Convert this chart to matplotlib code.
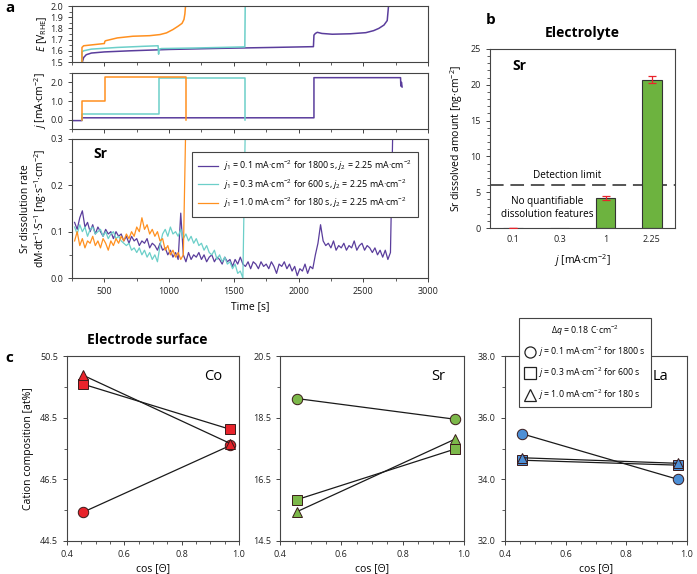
import numpy as np
import matplotlib
matplotlib.use("Agg")
import matplotlib.pyplot as plt
from matplotlib.lines import Line2D
from matplotlib.ticker import MultipleLocator, FormatStrFormatter

plt.rcParams['font.family'] = ['Open Sans', 'DejaVu Sans']
plt.rcParams['mathtext.fontset'] = 'custom'
plt.rcParams['mathtext.rm'] = 'Open Sans'
plt.rcParams['mathtext.it'] = 'Open Sans:italic'
plt.rcParams['mathtext.bf'] = 'Open Sans:bold'
plt.rcParams['axes.linewidth'] = 0.8
plt.rcParams['axes.edgecolor'] = '#444444'
plt.rcParams['xtick.color'] = '#444444'
plt.rcParams['ytick.color'] = '#444444'
plt.rcParams['xtick.labelcolor'] = '#222222'
plt.rcParams['ytick.labelcolor'] = '#222222'

PURPLE = '#5a3d9c'
CYAN = '#6ccfc9'
ORANGE = '#ff901f'

# ---------------- panel a: potential -----------------
E_t_purple = [330, 340, 360, 400, 500, 700, 1000, 1400, 1800, 2115, 2119, 2130, 2145, 2180,
              2260, 2400, 2520, 2580, 2620, 2660, 2685, 2695]
E_purple = [1.50, 1.54, 1.565, 1.58, 1.59, 1.60, 1.612, 1.622, 1.63, 1.637, 1.74, 1.755, 1.765,
            1.755, 1.748, 1.752, 1.762, 1.78, 1.80, 1.83, 1.87, 2.0]
E_t_cyan = [327, 327, 340, 400, 600, 800, 915, 919, 921, 925, 940, 1200, 1400, 1585, 1588]
E_cyan = [1.50, 1.59, 1.60, 1.615, 1.63, 1.64, 1.645, 1.57, 1.60, 1.615, 1.62, 1.625, 1.63, 1.635, 2.0]
E_t_orange = [327, 327, 340, 420, 500, 504, 510, 600, 720, 850, 930, 980, 1030, 1070, 1100, 1115,
              1122, 1127]
E_orange = [1.50, 1.63, 1.645, 1.655, 1.665, 1.685, 1.69, 1.715, 1.73, 1.735, 1.745, 1.76, 1.79,
            1.82, 1.845, 1.88, 1.93, 2.0]

# ---------------- panel a: current density -----------------
j_t_purple = [250, 327, 327, 2119, 2119, 2788, 2790, 2795, 2800]
j_purple = [-0.05, -0.05, 0.1, 0.1, 2.25, 2.25, 1.8, 2.0, 1.75]
j_t_cyan = [327, 327, 919, 919, 1588, 1588]
j_cyan = [0.0, 0.3, 0.3, 2.25, 2.25, 0.0]
j_t_orange = [327, 327, 504, 504, 1127, 1127]
j_orange = [0.0, 1.0, 1.0, 2.3, 2.3, 0.0]

# ---------------- panel a: Sr dissolution rate (every 20 s from 270 s) -----------------
T0, DT = 270, 20
rate_purple = [
    0.120, 0.105, 0.130, 0.145, 0.110, 0.120, 0.100, 0.115, 0.095, 0.110,
    0.100, 0.090, 0.105, 0.095, 0.100, 0.085, 0.100, 0.090, 0.095, 0.080,
    0.090, 0.075, 0.090, 0.080, 0.085, 0.070, 0.080, 0.075, 0.085, 0.065,
    0.075, 0.070, 0.060, 0.075, 0.060, 0.065, 0.050, 0.060, 0.045, 0.055,
    0.040, 0.140, 0.050, 0.035, 0.055, 0.040, 0.050, 0.045, 0.055, 0.040,
    0.050, 0.035, 0.045, 0.050, 0.035, 0.045, 0.040, 0.030, 0.045, 0.035,
    0.040, 0.025, 0.040, 0.030, 0.045, 0.030, 0.025, 0.035, 0.020, 0.035,
    0.030, 0.020, 0.035, 0.025, 0.030, 0.020, 0.035, 0.025, 0.010, 0.030,
    0.025, 0.035, 0.020, 0.030, 0.015, 0.025, 0.005, 0.020, 0.015, 0.030,
    0.010, 0.025, 0.020, 0.050, 0.075, 0.115, 0.080, 0.070, 0.075, 0.065,
    0.080, 0.060, 0.070, 0.065, 0.075, 0.060, 0.070, 0.065, 0.080, 0.060,
    0.070, 0.075, 0.060, 0.070, 0.065, 0.055, 0.065, 0.050, 0.060, 0.045,
    0.060, 0.040, 0.055, 0.350,
]
rate_cyan = [
    0.110, 0.095, 0.115, 0.100, 0.110, 0.090, 0.105, 0.110, 0.095, 0.100,
    0.105, 0.090, 0.100, 0.085, 0.095, 0.100, 0.085, 0.090, 0.080, 0.075,
    0.070, 0.075, 0.060, 0.065, 0.055, 0.065, 0.050, 0.060, 0.045, 0.055,
    0.040, 0.050, 0.035, 0.070, 0.095, 0.105, 0.090, 0.110, 0.095, 0.100,
    0.090, 0.105, 0.085, 0.095, 0.080, 0.090, 0.075, 0.085, 0.070, 0.075,
    0.060, 0.070, 0.055, 0.050, 0.060, 0.040, 0.050, 0.035, 0.045, 0.030,
    0.035, 0.020, 0.030, 0.010, 0.015, 0.000, 0.350,
]
rate_orange = [
    0.080, 0.100, 0.070, 0.085, 0.065, 0.080, 0.075, 0.090, 0.070, 0.080,
    0.065, 0.085, 0.075, 0.060, 0.080, 0.070, 0.085, 0.075, 0.090, 0.080,
    0.095, 0.085, 0.100, 0.090, 0.110, 0.100, 0.130, 0.105, 0.115, 0.095,
    0.105, 0.090, 0.100, 0.080, 0.085, 0.060, 0.070, 0.050, 0.060, 0.045,
    0.055, 0.040, 0.050, 0.350,
]
series_labels = [
    r"$j_1$ = 0.1 mA·cm$^{-2}$ for 1800 s, $j_2$ = 2.25 mA·cm$^{-2}$",
    r"$j_1$ = 0.3 mA·cm$^{-2}$ for 600 s, $j_2$ = 2.25 mA·cm$^{-2}$",
    r"$j_1$ = 1.0 mA·cm$^{-2}$ for 180 s, $j_2$ = 2.25 mA·cm$^{-2}$",
]

# ---------------- panel b -----------------
b_categories = ['0.1', '0.3', '1', '2.25']
b_values = [0.0, 0.0, 4.2, 20.7]
b_errors = [0.0, np.nan, 0.25, 0.5]
detection_limit = 6.0

# ---------------- panel c -----------------
cos_theta = [0.455, 0.97]
c_elements = ['Co', 'Sr', 'La']
c_circle = {'Co': [45.43, 47.6], 'Sr': [19.12, 18.45], 'La': [35.48, 34.0]}
c_square = {'Co': [49.59, 48.12], 'Sr': [15.84, 17.48], 'La': [34.62, 34.46]}
c_triangle = {'Co': [49.88, 47.66], 'Sr': [15.45, 17.80], 'La': [34.70, 34.52]}
c_colors = {'Co': '#e8232b', 'Sr': '#7cb84a', 'La': '#4d8fd6'}
c_yticks = {'Co': [44.5, 46.5, 48.5, 50.5], 'Sr': [14.5, 16.5, 18.5, 20.5],
            'La': [32.0, 34.0, 36.0, 38.0]}
c_legend_labels = [
    r"$j$ = 0.1 mA·cm$^{-2}$ for 1800 s",
    r"$j$ = 0.3 mA·cm$^{-2}$ for 600 s",
    r"$j$ = 1.0 mA·cm$^{-2}$ for 180 s",
]

W, H = 697, 574
fig = plt.figure(figsize=(W / 100, H / 100), dpi=100)


def box(x0, y0, x1, y1):
    # pixel box (top-left origin) -> figure fraction rect
    return [x0 / W, 1 - y1 / H, (x1 - x0) / W, (y1 - y0) / H]


TICK = 6.5
LAB = 7.5

ax_E = fig.add_axes(box(72, 6, 428, 62))
ax_j = fig.add_axes(box(72, 73, 428, 129))
ax_r = fig.add_axes(box(72, 139, 428, 278))

ax_E.plot(E_t_purple, E_purple, color=PURPLE, lw=1.1)
ax_E.plot(E_t_cyan, E_cyan, color=CYAN, lw=1.1)
ax_E.plot(E_t_orange, E_orange, color=ORANGE, lw=1.1)
ax_E.set_ylim(1.5, 2.0)
ax_E.yaxis.set_major_locator(MultipleLocator(0.1))
ax_E.yaxis.set_minor_locator(MultipleLocator(0.05))
ax_E.yaxis.set_major_formatter(FormatStrFormatter('%.1f'))
ax_E.set_ylabel(r"$E$ [V$_\mathrm{RHE}$]", fontsize=LAB)

ax_j.plot(j_t_purple, j_purple, color=PURPLE, lw=1.1)
ax_j.plot(j_t_cyan, j_cyan, color=CYAN, lw=1.1)
ax_j.plot(j_t_orange, j_orange, color=ORANGE, lw=1.1)
ax_j.set_ylim(-0.5, 2.5)
ax_j.yaxis.set_major_locator(MultipleLocator(1.0))
ax_j.yaxis.set_minor_locator(MultipleLocator(0.5))
ax_j.yaxis.set_major_formatter(FormatStrFormatter('%.1f'))
ax_j.set_ylabel(r"$j$ [mA·cm$^{-2}$]", fontsize=LAB)

t_p = T0 + DT * np.arange(len(rate_purple))
t_c = T0 + DT * np.arange(len(rate_cyan))
t_o = T0 + DT * np.arange(len(rate_orange))
ax_r.plot(t_p, rate_purple, color=PURPLE, lw=0.9, label=series_labels[0])
ax_r.plot(t_c, rate_cyan, color=CYAN, lw=0.9, label=series_labels[1])
ax_r.plot(t_o, rate_orange, color=ORANGE, lw=0.9, label=series_labels[2])
ax_r.set_ylim(0, 0.3)
ax_r.yaxis.set_major_locator(MultipleLocator(0.1))
ax_r.yaxis.set_minor_locator(MultipleLocator(0.05))
ax_r.yaxis.set_major_formatter(FormatStrFormatter('%.1f'))
ax_r.set_ylabel("Sr dissolution rate\n" + r"dM·dt$^{-1}$·S$^{-1}$ [ng·s$^{-1}$·cm$^{-2}$]",
                fontsize=LAB, linespacing=1.1)
ax_r.set_xlabel("Time [s]", fontsize=LAB)
ax_r.text(0.06, 0.86, "Sr", transform=ax_r.transAxes, fontsize=10, fontweight='bold')
leg = ax_r.legend(loc='upper right', bbox_to_anchor=(0.972, 0.906), borderaxespad=0,
                  fontsize=6.4, fancybox=False, edgecolor='#444444', framealpha=1,
                  handlelength=2.2, handletextpad=0.6, borderpad=0.7, labelspacing=0.5)
leg.get_frame().set_linewidth(0.8)

for ax in (ax_E, ax_j, ax_r):
    ax.set_xlim(250, 3000)
    ax.xaxis.set_major_locator(MultipleLocator(500))
    ax.xaxis.set_minor_locator(MultipleLocator(250))
    ax.tick_params(labelsize=TICK, length=3, width=0.7)
    ax.tick_params(which='minor', length=2, width=0.6)
    ax.yaxis.set_label_coords(-0.066, 0.5)
for ax in (ax_E, ax_j):
    ax.tick_params(labelbottom=False)

# ---------------- panel b -----------------
ax_b = fig.add_axes(box(490, 49, 675, 228))
xb = np.arange(len(b_categories))
ax_b.bar(xb, b_values, width=0.42, color='#6db33f', edgecolor='#333333', linewidth=0.8, zorder=2)
ax_b.errorbar(xb, b_values, yerr=b_errors, fmt='none', ecolor='#e8232b', elinewidth=0.9,
              capsize=3, capthick=0.9, zorder=3)
ax_b.axhline(detection_limit, color='#555555', lw=1.4, dashes=(7, 3.5), zorder=1)
ax_b.set_xlim(-0.5, 3.5)
ax_b.set_ylim(0, 25)
ax_b.set_xticks(xb)
ax_b.set_xticklabels(b_categories)
ax_b.yaxis.set_major_locator(MultipleLocator(5))
ax_b.yaxis.set_minor_locator(MultipleLocator(1))
ax_b.tick_params(labelsize=TICK, length=3, width=0.7)
ax_b.tick_params(axis='x', length=0, pad=5)
ax_b.tick_params(which='minor', length=2, width=0.6)
ax_b.set_ylabel(r"Sr dissolved amount [ng·cm$^{-2}$]", fontsize=LAB)
ax_b.set_xlabel(r"$j$ [mA·cm$^{-2}$]", fontsize=LAB, labelpad=6)
ax_b.text(0.12, 0.88, "Sr", transform=ax_b.transAxes, fontsize=10, fontweight='bold')
ax_b.text(1.17, detection_limit + 0.6, "Detection limit", ha='center', va='bottom', fontsize=7.2)
ax_b.text(0.74, 2.8, "No quantifiable\ndissolution features", ha='center', va='center',
          fontsize=7.2, linespacing=1.2)
ax_b.set_title("Electrolyte", fontsize=10, fontweight='bold', pad=9)

# ---------------- panel c -----------------
c_boxes = {'Co': box(67, 356, 239, 541), 'Sr': box(280, 356, 464, 541), 'La': box(505, 356, 687, 541)}
for el in c_elements:
    ax = fig.add_axes(c_boxes[el])
    col = c_colors[el]
    for vals, mk, ms in ((c_circle[el], 'o', 7.5), (c_square[el], 's', 7), (c_triangle[el], '^', 7.5)):
        ax.plot(cos_theta, vals, color='#1a1a1a', lw=0.9, marker=mk, ms=ms,
                mfc=col, mec='#3a1a1a', mew=0.7, zorder=3)
    ticks = c_yticks[el]
    ax.set_xlim(0.4, 1.0)
    ax.set_ylim(ticks[0], ticks[-1])
    ax.set_yticks(ticks)
    ax.set_yticks([t + 1.0 for t in ticks[:-1]], minor=True)
    ax.xaxis.set_major_locator(MultipleLocator(0.2))
    ax.xaxis.set_minor_locator(MultipleLocator(0.05))
    ax.yaxis.set_major_formatter(FormatStrFormatter('%.1f'))
    ax.tick_params(labelsize=TICK, length=3, width=0.7)
    ax.tick_params(which='minor', length=2, width=0.6)
    ax.set_xlabel(r"cos [Θ]", fontsize=LAB, labelpad=3)
    ax.text(0.9, 0.87, el, transform=ax.transAxes, ha='right', fontsize=10.5)
    if el == 'Co':
        ax.set_ylabel("Cation composition [at%]", fontsize=LAB)

handles = [Line2D([], [], ls='none', marker=m, ms=8, mfc='white', mec='#222222', mew=0.9)
           for m in ('o', 's', '^')]
leg_c = fig.legend(handles, c_legend_labels, loc='upper left', borderaxespad=0,
                   bbox_to_anchor=(519 / W, 1 - 318 / H), fontsize=6.3,
                   title=r"$\Delta q$ = 0.18 C·cm$^{-2}$", title_fontsize=6.3,
                   fancybox=False, edgecolor='#444444', framealpha=1, handletextpad=0.4,
                   borderpad=0.6, labelspacing=0.8, handlelength=1.2)
leg_c.get_frame().set_linewidth(0.8)
fig.add_artist(Line2D([524 / W, 645 / W], [1 - 340 / H, 1 - 340 / H], color='#333333', lw=0.7))

# panel letters and titles
fig.text(5 / W, 1 - 12 / H, "a", fontsize=11, fontweight='bold')
fig.text(486 / W, 1 - 24 / H, "b", fontsize=11, fontweight='bold')
fig.text(5 / W, 1 - 362 / H, "c", fontsize=11, fontweight='bold')
fig.text(147 / W, 1 - 340 / H, "Electrode surface", fontsize=10, fontweight='bold',
         ha='center', va='center')

fig.savefig("out.png", dpi=100)
